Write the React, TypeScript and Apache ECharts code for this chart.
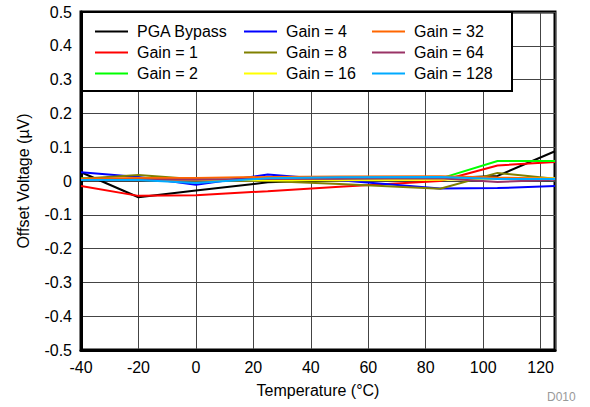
import React, { useEffect, useRef } from "react";
import * as echarts from "echarts";

const temps = [-40, -20, 0, 25, 50, 85, 105, 125];
const seriesNames = [
  "PGA Bypass",
  "Gain = 1",
  "Gain = 2",
  "Gain = 4",
  "Gain = 8",
  "Gain = 16",
  "Gain = 32",
  "Gain = 64",
  "Gain = 128",
];
const pgaBypass = [0.026, -0.048, -0.028, -0.004, 0.003, 0.008, 0.015, 0.088];
const gain1 = [-0.015, -0.044, -0.042, -0.03, -0.017, 0.0, 0.046, 0.056];
const gain2 = [0.008, 0.005, 0.003, 0.005, 0.006, 0.007, 0.059, 0.059];
const gain4 = [0.026, 0.012, -0.011, 0.019, 0.002, -0.022, -0.021, -0.015];
const gain8 = [0.007, 0.018, 0.005, 0.0, -0.009, -0.023, 0.024, 0.007];
const gain16 = [0.003, 0.003, 0.002, 0.002, 0.002, 0.004, 0.006, 0.008];
const gain32 = [0.007, 0.009, 0.009, 0.012, 0.013, 0.014, 0.01, 0.007];
const gain64 = [0.003, 0.004, 0.004, 0.006, 0.007, 0.008, -0.003, 0.004];
const gain128 = [0.003, 0.003, -0.006, 0.008, 0.011, 0.012, 0.006, 0.006];
const allValues = [pgaBypass, gain1, gain2, gain4, gain8, gain16, gain32, gain64, gain128];
const colors = [
  "#000000",
  "#ff0000",
  "#00ff00",
  "#0000ff",
  "#808000",
  "#ffff00",
  "#ff6600",
  "#993366",
  "#00aaff",
];

const FONT = "Liberation Sans, Arial, sans-serif";

export default function App() {
  const ref = useRef<HTMLDivElement>(null);
  useEffect(() => {
    if (!ref.current) return;
    const chart = echarts.init(ref.current, undefined, { renderer: "svg" });
    const series = seriesNames.map((name, i) => ({
      name,
      type: "line",
      data: temps.map((t, j) => [t, allValues[i][j]]),
      symbol: "none",
      lineStyle: { color: colors[i], width: 2 },
      itemStyle: { color: colors[i] },
    }));
    const legendCommon = {
      orient: "vertical",
      top: 23,
      padding: 0,
      icon: "rect",
      itemWidth: 33,
      itemHeight: 2,
      itemGap: 4,
      z: 10,
      selectedMode: false,
      textStyle: {
        fontFamily: FONT,
        fontSize: 16,
        color: "#000",
        lineHeight: 17,
        padding: [0, 0, 0, 4],
      },
    };
    chart.setOption({
      animation: false,
      backgroundColor: "#fff",
      grid: {
        left: 81,
        right: 35,
        top: 12,
        bottom: 57,
        show: true,
        borderColor: "#000",
        borderWidth: 3,
        backgroundColor: "transparent",
      },
      legend: [
        { ...legendCommon, left: 95, data: seriesNames.slice(0, 3) },
        { ...legendCommon, left: 244, data: seriesNames.slice(3, 6) },
        { ...legendCommon, left: 372, data: seriesNames.slice(6, 9) },
      ],
      graphic: [
        {
          type: "rect",
          z: 5,
          shape: { x: 82, y: 12, width: 430, height: 79 },
          style: { fill: "#fff", stroke: "#000", lineWidth: 2 },
        },
        {
          type: "text",
          z: 5,
          left: 547,
          top: 391,
          style: { text: "D010", fill: "#999", fontSize: 12, fontFamily: FONT },
        },
      ],
      xAxis: {
        type: "value",
        min: -40,
        max: 125,
        interval: 20,
        name: "Temperature (°C)",
        nameLocation: "middle",
        nameGap: 32,
        nameTextStyle: { fontFamily: FONT, fontSize: 16, color: "#000" },
        axisLine: { show: true, onZero: false, lineStyle: { color: "#000", width: 3 } },
        axisTick: { show: false },
        axisLabel: { fontFamily: FONT, fontSize: 16, color: "#000", margin: 9, showMaxLabel: false },
        splitLine: { show: true, lineStyle: { color: "#444", width: 1 } },
      },
      yAxis: {
        type: "value",
        min: -0.5,
        max: 0.5,
        interval: 0.1,
        name: "Offset Voltage (µV)",
        nameLocation: "middle",
        nameGap: 50,
        nameTextStyle: { fontFamily: FONT, fontSize: 16, color: "#000" },
        axisLine: { show: true, onZero: false, lineStyle: { color: "#000", width: 3 } },
        axisTick: { show: false },
        axisLabel: { fontFamily: FONT, fontSize: 16, color: "#000", margin: 9 },
        splitLine: { show: true, lineStyle: { color: "#444", width: 1 } },
      },
      series,
    });
    return () => chart.dispose();
  }, []);
  return <div ref={ref} style={{ width: 590, height: 407, position: "absolute", left: 0, top: 0 }} />;
}
